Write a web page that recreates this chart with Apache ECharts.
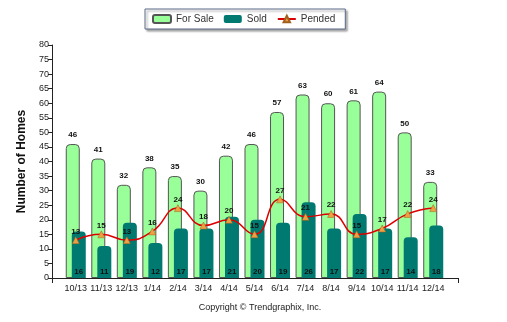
<!DOCTYPE html>
<html><head><meta charset="utf-8">
<script src="https://cdn.jsdelivr.net/npm/echarts@6/dist/echarts.min.js"></script>
<style>html,body{margin:0;padding:0;background:#fff}#c{width:507px;height:322px}</style>
</head><body><div id="c"></div>
<script>
var categories = ['10/13','11/13','12/13','1/14','2/14','3/14','4/14','5/14','6/14','7/14','8/14','9/14','10/14','11/14','12/14'];
var forSale = [46,41,32,38,35,30,42,46,57,63,60,61,64,50,33];
var sold = [16,11,19,12,17,17,21,20,19,26,17,22,17,14,18];
var pended = [13,15,13,16,24,18,20,15,27,21,22,15,17,22,24];
var yTicks = {min:0, max:80, interval:5};

var F = 'Liberation Sans, Arial, sans-serif';
var chart = echarts.init(document.getElementById('c'));
chart.setOption({
  animation:false,
  textStyle:{fontFamily:F},
  title:{text:'Copyright \u00A9 Trendgraphix, Inc.', left:255, top:298,
    textAlign:'center',
    textStyle:{fontSize:9, fontWeight:'normal', color:'#222', fontFamily:F}},
  legend:{left:145, top:9, padding:[5,10,5,7], orient:'horizontal',
    borderColor:'#5a6a8a', borderWidth:1, backgroundColor:'#fff',
    shadowColor:'rgba(0,0,0,0.35)', shadowBlur:2, shadowOffsetX:2, shadowOffsetY:2,
    itemWidth:18, itemHeight:8, itemGap:10,
    textStyle:{fontSize:10, color:'#333', fontFamily:F},
    data:['For Sale','Sold','Pended']},
  grid:[
    {left:63, right:61, top:45, bottom:44},
    {left:52, right:49, top:45, bottom:44}
  ],
  xAxis:[
    {type:'category', gridIndex:0, data:categories,
      axisLine:{show:false}, axisTick:{show:false},
      axisLabel:{fontSize:9, color:'#222', margin:6, interval:0, fontFamily:F}},
    {type:'value', gridIndex:1, min:0, max:1, interval:1,
      axisLine:{show:true, lineStyle:{color:'#222'}},
      axisTick:{show:true, length:5, lineStyle:{color:'#222'}},
      axisLabel:{show:false}, splitLine:{show:false}}
  ],
  yAxis:[
    {type:'value', gridIndex:0, min:yTicks.min, max:yTicks.max, interval:yTicks.interval, offset:11,
      name:'Number of Homes', nameLocation:'middle', nameGap:24, nameRotate:90,
      nameTextStyle:{fontSize:12, fontWeight:'bold', color:'#111', fontFamily:F},
      axisLine:{show:true, lineStyle:{color:'#222'}},
      axisTick:{show:true, length:4, lineStyle:{color:'#222'}},
      axisLabel:{fontSize:9, color:'#222', margin:3, fontFamily:F},
      splitLine:{show:false}},
    {type:'value', gridIndex:1, min:0, max:80, show:false}
  ],
  series:[
    {name:'For Sale', type:'bar', xAxisIndex:0, yAxisIndex:0, data:forSale,
      barWidth:14, barGap:'-57%',
      itemStyle:{color:'#99ff99', borderColor:'#555', borderWidth:1, borderRadius:[4,4,0,0]},
      label:{show:true, position:'top', distance:5, fontSize:8, fontWeight:'bold', color:'#111', fontFamily:F}},
    {name:'Sold', type:'bar', xAxisIndex:0, yAxisIndex:0, data:sold,
      barWidth:14,
      itemStyle:{color:'#007a70', borderRadius:[4,4,0,0]},
      label:{show:true, position:'insideBottom', distance:2, fontSize:8, fontWeight:'bold', color:'#111', fontFamily:F}},
    {name:'Pended', type:'line', xAxisIndex:0, yAxisIndex:0, data:pended, smooth:0.5,
      symbol:'triangle', symbolSize:7, z:5,
      lineStyle:{color:'#dd0000', width:1.5},
      itemStyle:{color:'#f0a040', borderColor:'#a06020', borderWidth:0.5},
      label:{show:true, position:'top', distance:1, fontSize:8, fontWeight:'bold', color:'#111', fontFamily:F}}
  ]
});
</script></body></html>
